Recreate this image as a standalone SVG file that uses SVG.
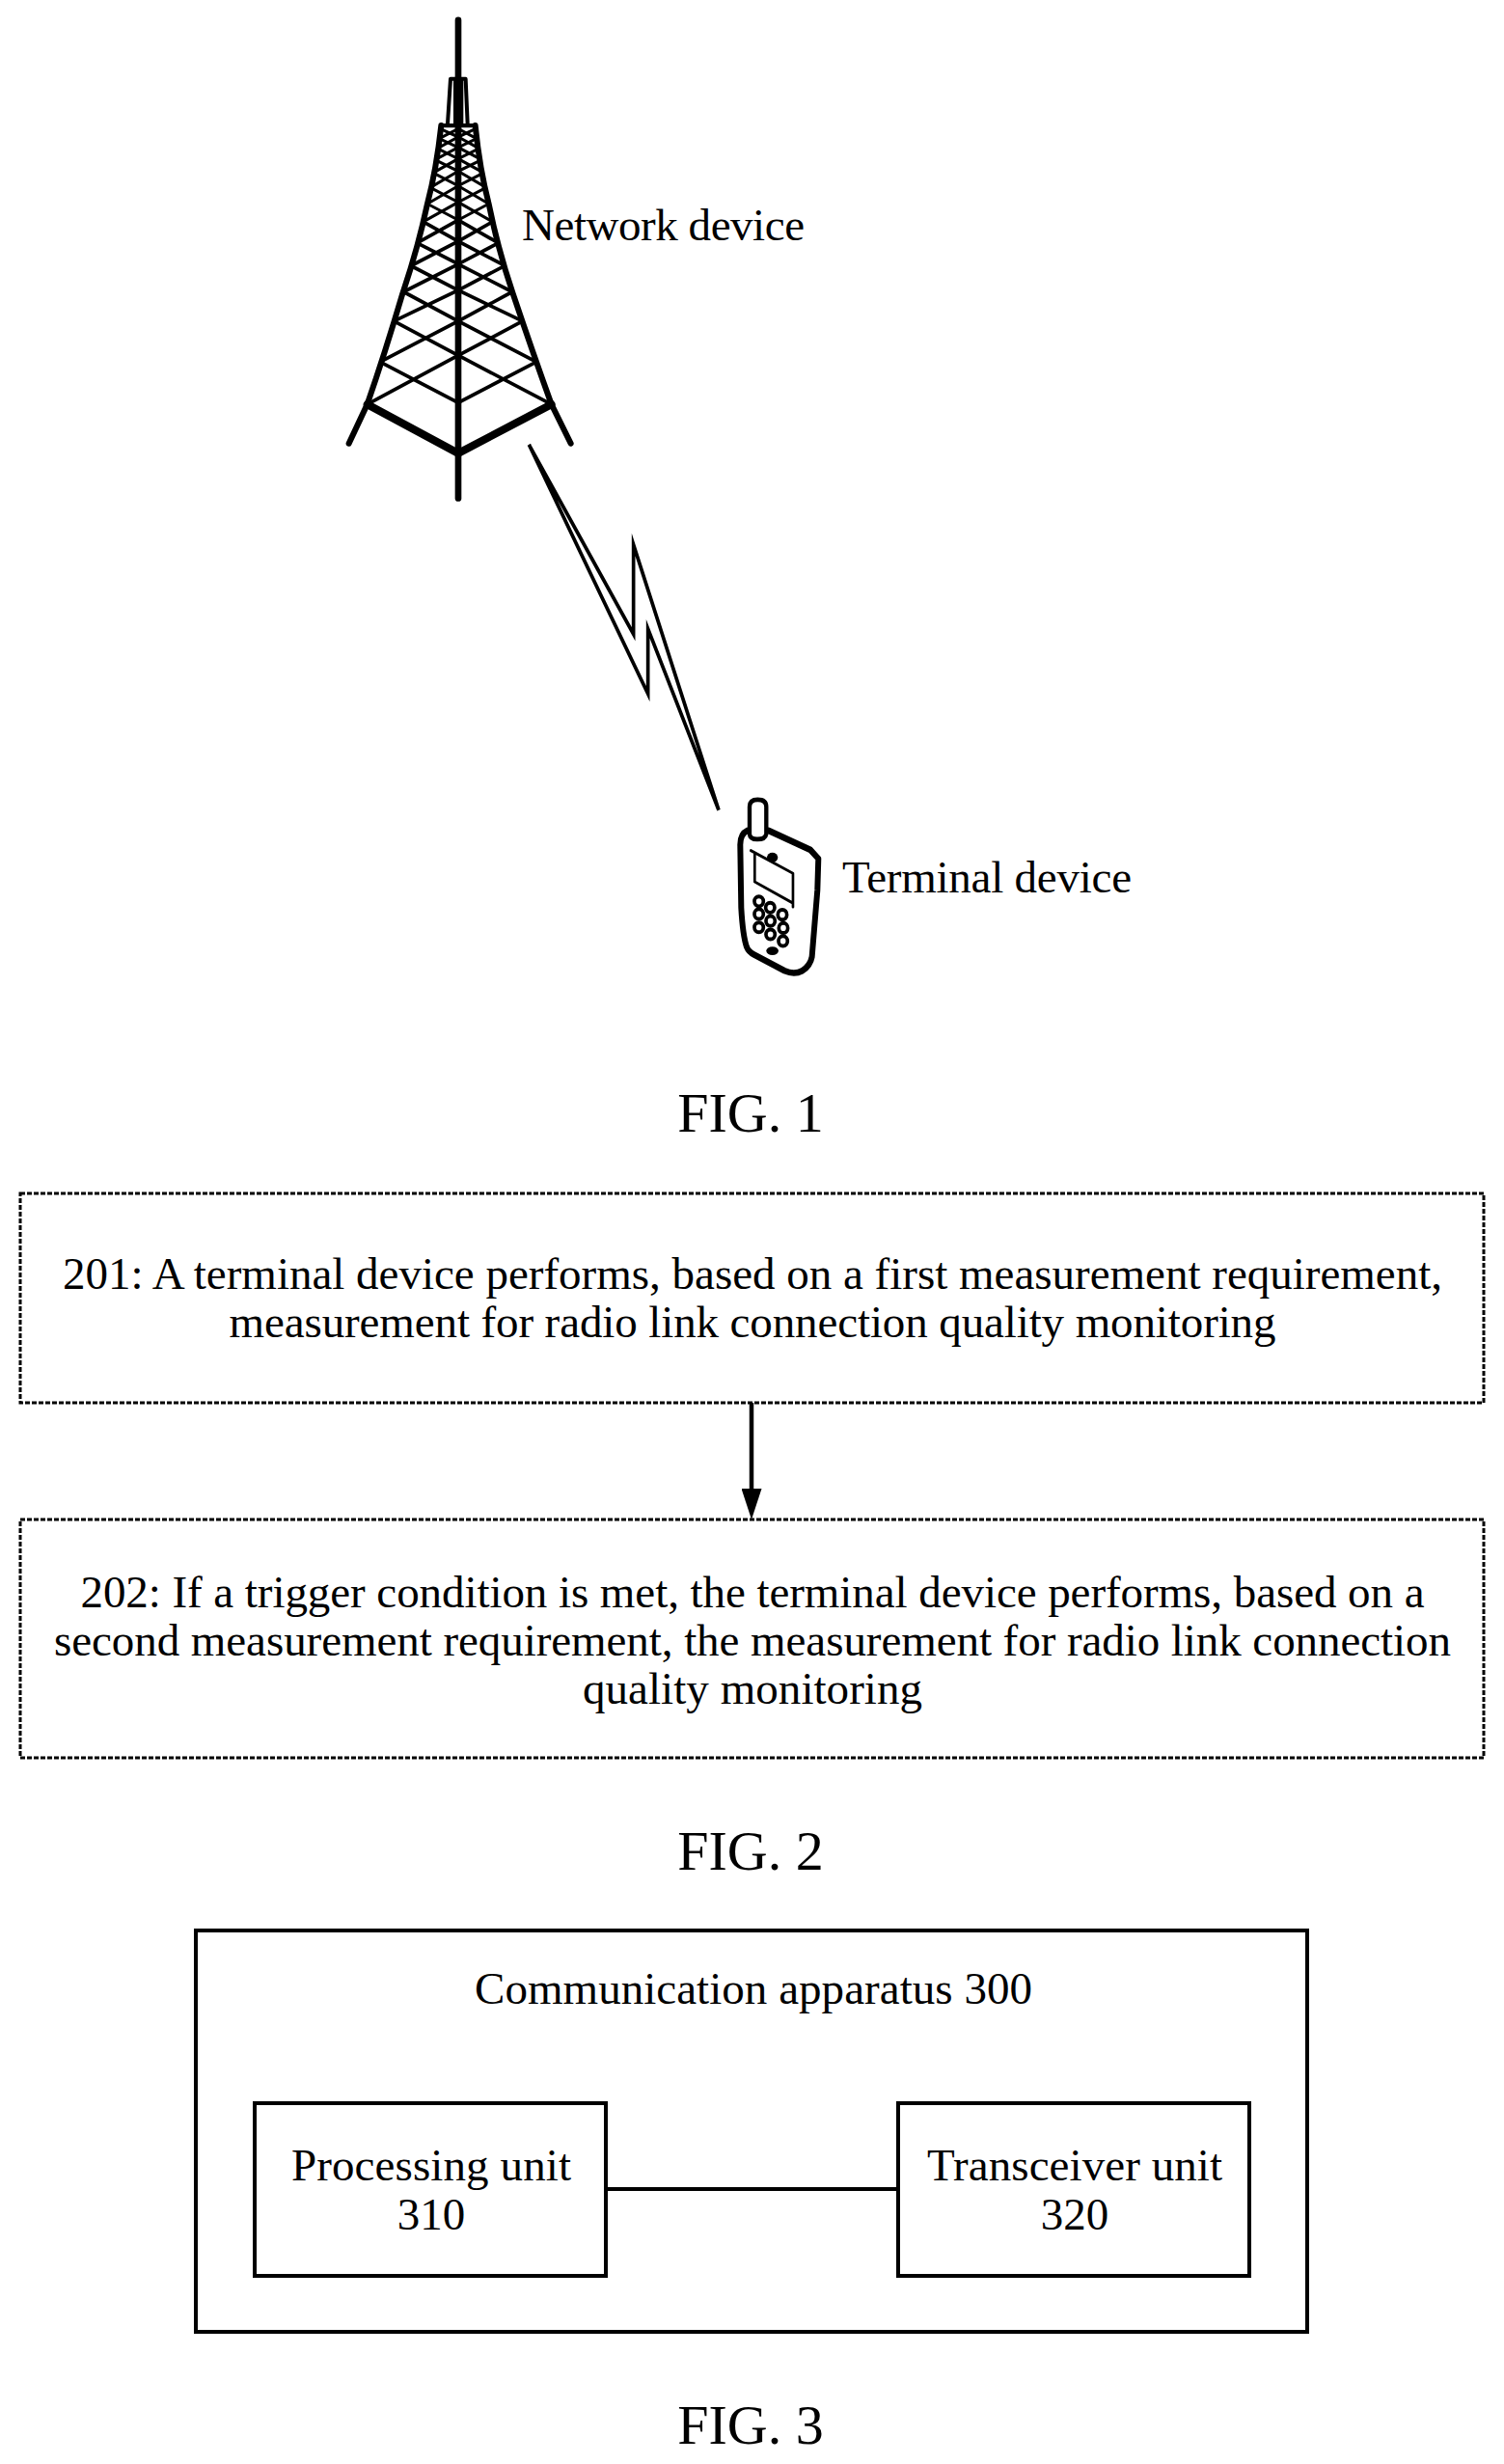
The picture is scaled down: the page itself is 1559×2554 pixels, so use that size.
<svg xmlns="http://www.w3.org/2000/svg" width="1559" height="2554" viewBox="0 0 1559 2554">
<style>
text{font-family:"Liberation Serif","Times New Roman",serif;font-size:47px;fill:#000}
.m{text-anchor:middle}
.fig{font-size:58px;text-anchor:middle}
.dash{fill:#fff;stroke:#000;stroke-width:3;stroke-dasharray:5 2}
.box{fill:none;stroke:#000;stroke-width:4}
.ln{fill:none;stroke:#000;stroke-linejoin:round;stroke-linecap:round}
.lat{fill:none;stroke:#000;stroke-width:11;stroke-linejoin:miter}
.latt{fill:none;stroke:#000;stroke-width:9;stroke-linejoin:miter}
.key{fill:none;stroke:#000;stroke-width:11}
</style>
<defs>
<marker id="arr" markerUnits="userSpaceOnUse" markerWidth="32" markerHeight="21" refX="32" refY="10.5" orient="auto" viewBox="0 0 32 21"><path d="M0 0L32 10.5L0 21z" fill="#000"/></marker>
</defs>
<rect width="1559" height="2554" fill="#fff"/>
<g id="network-device">
<g transform="translate(340,0) scale(.3333,.338)">
<polyline class="lat" points="122,1240 405,1090 695,1240"/><polyline class="lat" points="162,1110 405,985 648,1110"/><polyline class="lat" points="205,985 405,890 605,985"/><polyline class="lat" points="235,895 405,810 573,895"/><polyline class="lat" points="258,815 405,740 550,815"/><polyline class="lat" points="277,745 405,675 530,745"/><polyline class="latt" points="296,680 405,620 512,680"/><polyline class="latt" points="309,625 405,570 500,625"/><polyline class="latt" points="318,575 405,525 492,575"/><polyline class="latt" points="327,530 405,487 484,530"/><polyline class="latt" points="333,490 405,452 478,490"/><polyline class="latt" points="340,455 405,420 470,455"/><polyline class="latt" points="346,425 405,395 462,425"/>
<polyline class="lat" points="162,1110 405,1235 648,1110"/><polyline class="lat" points="205,985 405,1090 605,985"/><polyline class="lat" points="235,895 405,985 573,895"/><polyline class="lat" points="258,815 405,890 550,815"/><polyline class="lat" points="277,745 405,810 530,745"/><polyline class="lat" points="296,680 405,740 512,680"/><polyline class="latt" points="309,625 405,675 500,625"/><polyline class="latt" points="318,575 405,620 492,575"/><polyline class="latt" points="327,530 405,570 484,530"/><polyline class="latt" points="333,490 405,525 478,490"/><polyline class="latt" points="340,455 405,487 470,455"/><polyline class="latt" points="346,425 405,452 462,425"/><polyline class="latt" points="350,395 405,420 458,395"/>
<path class="ln" stroke-width="18" d="M352 385Q337 520 309 625Q280 760 232 900Q175 1090 122 1240L65 1360"/>
<path class="ln" stroke-width="18" d="M458 385Q472 520 500 625Q530 770 575 900Q640 1090 695 1240L755 1360"/>
<path class="ln" stroke-width="12" d="M352 385H458"/>
<path class="ln" stroke-width="24" stroke-linejoin="miter" d="M122 1240L405 1390L695 1240"/>
<path class="ln" stroke-width="20" stroke-linecap="butt" d="M405 62V1528"/>
<path class="ln" stroke-width="12" d="M372 380L381 242H428L434 380"/>
<path class="ln" stroke-width="8" d="M394 245V380M417 245V380"/>
</g>
<text x="541" y="249" textLength="293">Network device</text>
</g>
<g id="terminal-device">
<g transform="translate(530,450) scale(.3333,.3636)">
<path class="ln" stroke-width="18" d="M735 1130Q712 1140 712 1170L715 1350Q720 1430 732 1462Q738 1476 755 1484L850 1530Q880 1542 905 1530Q930 1515 935 1490L952 1300L955 1210L930 1185L800 1130"/>
<path class="ln" stroke-width="13" d="M741 1140V1062Q741 1042 766 1042Q793 1042 793 1062V1140Q790 1155 765 1155Q742 1155 741 1140"/>
<path class="ln" stroke-width="8" d="M745 1187L876 1252V1348M757 1195V1276L872 1335"/>
<ellipse cx="812" cy="1207" rx="17" ry="14" fill="#000"/>
<circle class="key" cx="770" cy="1332" r="14"/><circle class="key" cx="805" cy="1350" r="14"/><circle class="key" cx="843" cy="1370" r="14"/><circle class="key" cx="770" cy="1368" r="14"/><circle class="key" cx="806" cy="1388" r="14"/><circle class="key" cx="846" cy="1408" r="14"/><circle class="key" cx="770" cy="1406" r="14"/><circle class="key" cx="806" cy="1426" r="14"/><circle class="key" cx="845" cy="1445" r="14"/>
<ellipse cx="812" cy="1473" rx="19" ry="12" fill="#000"/>
</g>
<text x="873" y="925" textLength="300">Terminal device</text>
</g>
<g id="radio-link">
<g transform="translate(530,450) scale(.3333,.3636)">
<path fill="none" stroke="#000" stroke-width="11" stroke-linejoin="miter" stroke-miterlimit="30" d="M55 30L425 740V555L645 1072L380 315V570Z"/>
</g>
</g>
<text class="fig" x="778" y="1173">FIG. 1</text>
<g id="step-201">
<rect class="dash" x="21" y="1237" width="1517" height="217"/>
<text class="m" x="780" y="1336" textLength="1430">201: A terminal device performs, based on a first measurement requirement,</text>
<text class="m" x="780" y="1386" textLength="1085">measurement for radio link connection quality monitoring</text>
</g>
<g id="step-202">
<rect class="dash" x="21" y="1575" width="1517" height="247"/>
<text class="m" x="780" y="1666" textLength="1393">202: If a trigger condition is met, the terminal device performs, based on a</text>
<text class="m" x="780" y="1716" textLength="1448">second measurement requirement, the measurement for radio link connection</text>
<text class="m" x="780" y="1766" textLength="352">quality monitoring</text>
</g>
<g id="connectors">
<line x1="779" y1="1454" x2="779" y2="1550" stroke="#000" stroke-width="4.5"/>
<line x1="779" y1="1540" x2="779" y2="1575" stroke="#000" stroke-width="0.1" marker-end="url(#arr)"/>
<line x1="628" y1="2269" x2="931" y2="2269" stroke="#000" stroke-width="4"/>
</g>
<text class="fig" x="778" y="1938">FIG. 2</text>
<g id="communication-apparatus">
<rect class="box" x="203" y="2001" width="1152" height="416"/>
<text class="m" x="781" y="2077" textLength="578">Communication apparatus 300</text>
</g>
<g id="processing-unit">
<rect class="box" x="264" y="2180" width="364" height="179"/>
<text class="m" x="447" y="2260" textLength="290">Processing unit</text>
<text class="m" x="447" y="2311">310</text>
</g>
<g id="transceiver-unit">
<rect class="box" x="931" y="2180" width="364" height="179"/>
<text class="m" x="1114" y="2260" textLength="306">Transceiver unit</text>
<text class="m" x="1114" y="2311">320</text>
</g>
<text class="fig" x="778" y="2533">FIG. 3</text>
</svg>
